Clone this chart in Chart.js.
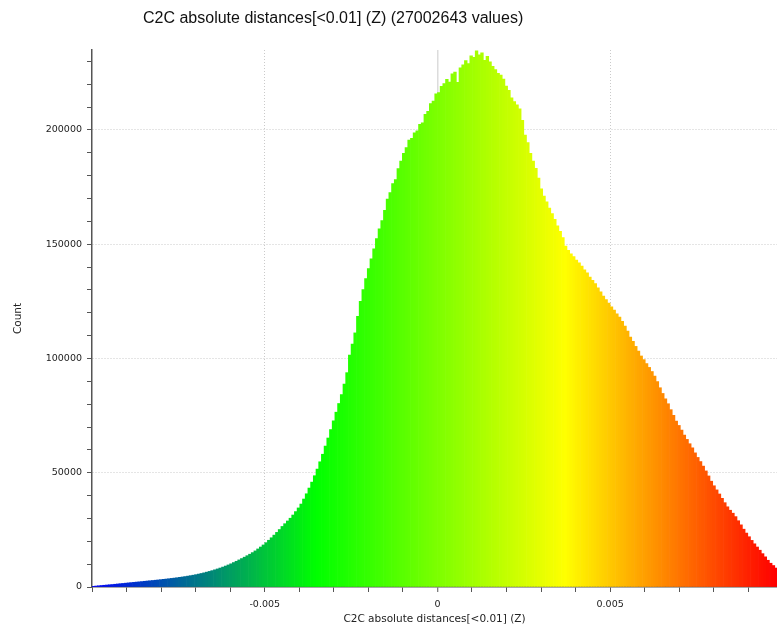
<!DOCTYPE html>
<html>
<head>
<meta charset="utf-8">
<script src="https://cdn.jsdelivr.net/npm/chart.js@4/dist/chart.umd.min.js"></script>
<style>
  html, body { margin: 0; padding: 0; background: #fff; }
  #wrap { position: relative; width: 777px; height: 637px; }
  #title {
    position: absolute; left: 143px; top: 9px;
    font: 16px "Liberation Sans", Arial, sans-serif; color: #111; white-space: nowrap;
  }
</style>
</head>
<body>
<div id="wrap">
  <canvas id="c" width="777" height="637"></canvas>
  <div id="title">C2C absolute distances[&lt;0.01] (Z) (27002643 values)</div>
</div>
<script>
// histogram bins (Z distances), 256 bins over [-0.01, 0.01], view cut at ~0.00983
const binStart = -0.01;
const binWidth = 0.000078125;
const counts = [
  300, 420, 540, 650, 760, 870, 980, 1080, 1200, 1320,
  1450, 1560, 1680, 1800, 1920, 2030, 2150, 2260, 2380, 2500,
  2620, 2740, 2850, 2970, 3090, 3220, 3350, 3480, 3620, 3760,
  3900, 4060, 4220, 4390, 4570, 4760, 4960, 5170, 5400, 5650,
  5920, 6200, 6500, 6820, 7160, 7520, 7900, 8300, 8720, 9170,
  9650, 10150, 10700, 11250, 11850, 12450, 13050, 13700, 14350, 15050,
  15800, 16650, 17500, 18400, 19400, 20450, 21550, 22700, 23900, 25150,
  26500, 27700, 28900, 30100, 31500, 33000, 34600, 36300, 38500, 40800,
  43300, 45900, 48700, 51600, 54800, 58100, 61700, 65200, 68900, 72700,
  76500, 80300, 84200, 88800, 93800, 101500, 106300, 111200, 118500, 125000,
  130200, 135000, 139300, 143600, 148000, 152500, 156700, 160300, 164800, 169800,
  172600, 176500, 178300, 183100, 186400, 189800, 192300, 195600, 196400, 198800,
  199600, 202500, 203100, 206900, 208200, 211500, 212700, 215800, 216400, 219100,
  220300, 222200, 221000, 224600, 225300, 220800, 227200, 228500, 230400, 229100,
  232500, 231800, 234600, 232900, 233800, 230500, 232200, 229800, 227900, 226400,
  224800, 224000, 222300, 219200, 217300, 214100, 212400, 211000, 209300, 204200,
  197800, 194500, 189800, 186400, 183200, 178900, 174300, 171100, 168600, 165800,
  163400, 160900, 158100, 155600, 152900, 149200, 147300, 145800, 144600, 143100,
  141900, 140400, 138800, 137500, 135600, 134200, 132800, 130900, 129200, 127300,
  125800, 124300, 122600, 121200, 119500, 118100, 116300, 114200, 112000, 109400,
  107500, 105300, 103200, 101100, 99500, 97800, 96100, 94300, 92300, 89900,
  87200, 84700, 82400, 80200, 77600, 75100, 72600, 70700, 68700, 66500,
  64600, 62700, 60900, 58700, 56700, 54900, 52900, 50800, 48600, 46300,
  44300, 42500, 40700, 38800, 36900, 35100, 33600, 32300, 30800, 29000,
  27200, 25300, 23600, 22000, 20400, 18900, 17500, 16100, 14600, 13200,
  11700, 10400, 9400, 8300
];

const xMin = -0.01, xMax = 0.00983;
const xMajorTicks = [-0.005, 0, 0.005];
const xMinorStep = 0.001;
const yMin = 0, yMax = 235000;
const yMajorTicks = [0, 50000, 100000, 150000, 200000];
const yMinorStep = 10000;

// colour scale Blue > Green > Yellow > Red
const colorStops = [
  [-0.01, [0, 0, 255]],
  [-0.0035, [0, 255, 0]],
  [0.0037, [255, 255, 0]],
  [0.0098, [255, 0, 0]]
];

function scaleColor(v) {
  if (v <= colorStops[0][0]) return 'rgb(' + colorStops[0][1].join(',') + ')';
  for (let i = 1; i < colorStops.length; i++) {
    const [x1, c1] = colorStops[i];
    const [x0, c0] = colorStops[i - 1];
    if (v <= x1) {
      const t = (v - x0) / (x1 - x0);
      const c = c0.map((a, k) => Math.round(a + (c1[k] - a) * t));
      return `rgb(${c.join(',')})`;
    }
  }
  return 'rgb(' + colorStops[colorStops.length - 1][1].join(',') + ')';
}

const centers = counts.map((_, i) => binStart + (i + 0.5) * binWidth);
const points = counts.map((c, i) => ({ x: centers[i], y: c }));
const barColors = centers.map(scaleColor);

function stepTicks(min, max, step) {
  const out = [];
  const n0 = Math.ceil(min / step - 1e-9), n1 = Math.floor(max / step + 1e-9);
  for (let n = n0; n <= n1; n++) out.push({ value: +(n * step).toPrecision(10) });
  return out;
}
const isMajor = (list, v) => list.some(m => Math.abs(m - v) < 1e-9);

const tickFont = { family: 'DejaVu Sans', size: 9.5 };
const titleFont = { family: 'DejaVu Sans', size: 10.5 };
const axisCol = '#555';
const gridCol = '#cacaca';

new Chart(document.getElementById('c'), {
  type: 'bar',
  data: {
    datasets: [{
      data: points,
      backgroundColor: barColors,
      borderWidth: 0,
      barPercentage: 1,
      categoryPercentage: 1,
      grouped: false
    }]
  },
  options: {
    responsive: false,
    animation: false,
    layout: { padding: { top: 50, right: 0, bottom: 0, left: 0 } },
    plugins: { legend: { display: false }, tooltip: { enabled: false } },
    scales: {
      x: {
        type: 'linear',
        min: xMin, max: xMax,
        offset: false,
        afterBuildTicks: s => { s.ticks = stepTicks(xMin, xMax, xMinorStep); },
        afterFit: s => { s.height = 50; s.paddingLeft = 0; s.paddingRight = 0; },
        ticks: {
          autoSkip: false, maxRotation: 0, padding: 7,
          font: tickFont, color: '#222',
          callback: v => isMajor(xMajorTicks, v) ? String(+v.toFixed(3)) : ''
        },
        grid: {
          offset: false,
          color: c => c.tick && Math.abs(c.tick.value) < 1e-9 ? '#dcdcdc'
            : (c.tick && isMajor(xMajorTicks, c.tick.value) ? gridCol : 'rgba(0,0,0,0)'),
          lineWidth: c => c.tick && Math.abs(c.tick.value) < 1e-9 ? 1.5 : 1,
          tickColor: axisCol, tickLength: 5, tickWidth: 1
        },
        border: {
          color: axisCol, width: 1.5,
          dash: c => c.tick && Math.abs(c.tick.value) < 1e-9 ? [] : [1, 2]
        },
        title: {
          display: true, text: 'C2C absolute distances[<0.01] (Z)',
          font: titleFont, color: '#222', padding: { top: 0, bottom: 11 }
        }
      },
      y: {
        type: 'linear',
        min: yMin, max: yMax,
        afterBuildTicks: s => { s.ticks = stepTicks(yMin, yMax, yMinorStep); },
        afterFit: s => { s.width = 92; s.paddingTop = 0; s.paddingBottom = 0; },
        ticks: {
          autoSkip: false, padding: 5,
          font: tickFont, color: '#222',
          callback: v => isMajor(yMajorTicks, v) ? String(v) : ''
        },
        grid: {
          color: c => c.tick && c.tick.value !== 0 && isMajor(yMajorTicks, c.tick.value) ? gridCol : 'rgba(0,0,0,0)',
          tickColor: axisCol, tickLength: 5, tickWidth: 1
        },
        border: { color: axisCol, width: 1.5, dash: [1, 2] },
        title: {
          display: true, text: 'Count',
          font: titleFont, color: '#222', padding: { top: 12, bottom: 0 }
        }
      }
    }
  }
});
</script>
</body>
</html>
